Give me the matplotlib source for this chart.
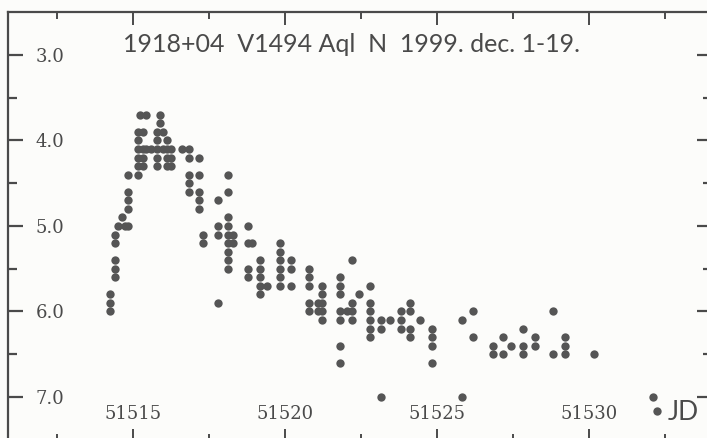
import matplotlib
matplotlib.use('Agg')
import matplotlib.pyplot as plt
from matplotlib.lines import Line2D
import numpy as np

# visual estimates, grouped by observing time (JD - 2400000)
night_jd = [51514.24, 51514.41, 51514.51, 51514.64, 51514.74, 51514.84,
            51515.16, 51515.23, 51515.33, 51515.43, 51515.59, 51515.79,
            51515.89, 51515.99, 51516.12, 51516.25, 51516.61, 51516.84,
            51517.17, 51517.30, 51517.80, 51518.13, 51518.29, 51518.78,
            51518.91, 51519.18, 51519.41, 51519.84, 51520.20, 51520.79,
            51521.09, 51521.22, 51521.81, 51522.04, 51522.20, 51522.43,
            51522.80, 51523.16, 51523.45, 51523.82, 51524.11, 51524.44,
            51524.84, 51525.82, 51526.18, 51526.84, 51527.17, 51527.43,
            51527.83, 51528.22, 51528.82, 51529.21, 51530.16, 51532.11]
night_mags = [[5.8, 5.9, 6.0], [5.1, 5.2, 5.4, 5.5, 5.6], [5.0], [4.9], [5.0],
              [4.4, 4.6, 4.7, 4.8, 5.0],
              [3.9, 4.0, 4.1, 4.2, 4.3, 4.4], [3.7], [3.9, 4.1, 4.2, 4.3],
              [3.7, 4.1], [4.1], [3.9, 4.0, 4.1, 4.2, 4.3],
              [3.7, 3.8], [3.9, 4.1], [4.0, 4.1, 4.2, 4.3], [4.1, 4.2, 4.3],
              [4.1], [4.1, 4.2, 4.4, 4.5, 4.6],
              [4.2, 4.4, 4.6, 4.7, 4.8], [5.1, 5.2], [4.7, 5.0, 5.1, 5.9],
              [4.4, 4.6, 4.9, 5.0, 5.1, 5.2, 5.3, 5.4, 5.5], [5.1, 5.2],
              [5.0, 5.2, 5.5, 5.6],
              [5.2], [5.4, 5.5, 5.6, 5.7, 5.8], [5.7],
              [5.2, 5.3, 5.4, 5.5, 5.6, 5.7], [5.4, 5.5, 5.7],
              [5.5, 5.6, 5.7, 5.9, 6.0],
              [5.9, 6.0], [5.7, 5.8, 5.9, 6.0, 6.1],
              [5.6, 5.7, 5.8, 6.0, 6.1, 6.4, 6.6], [6.0], [5.4, 5.9, 6.0, 6.1],
              [5.8],
              [5.7, 5.9, 6.0, 6.1, 6.2, 6.3], [6.1, 6.2, 7.0], [6.1],
              [6.0, 6.1, 6.2], [5.9, 6.0, 6.2, 6.3], [6.1],
              [6.2, 6.3, 6.4, 6.6], [6.1, 7.0], [6.0, 6.3], [6.4, 6.5],
              [6.3, 6.5], [6.4],
              [6.2, 6.4, 6.5], [6.3, 6.4], [6.0, 6.5], [6.3, 6.4, 6.5], [6.5],
              [7.0]]

title = '1918+04  V1494 Aql  N  1999. dec. 1-19.'
x_ticks = [51515, 51520, 51525, 51530]
y_ticks = [3.0, 4.0, 5.0, 6.0, 7.0]

jd = []
mag = []
for t, ms in zip(night_jd, night_mags):
    for m in ms:
        jd.append(t)
        mag.append(m)

ink = '#4a4a4a'
paper = '#fcfcfa'

fig = plt.figure(figsize=(7.07, 4.38), dpi=100, facecolor=paper)
ax = fig.add_axes([7.5/707, -3/438, 704.5/707, 429/438], facecolor=paper)

ax.plot(jd, mag, 'o', ms=6.0, color='#555555', mec='none')

ax.set_xlim(51510.87, 51534.05)
ax.set_ylim(7.515, 2.497)

ax.set_xticks(x_ticks)
ax.set_xticks(np.arange(51512.5, 51534, 5), minor=True)
ax.set_yticks(y_ticks)
ax.set_yticks(np.arange(3.5, 7.5, 1.0), minor=True)
ax.set_yticklabels(['%.1f' % v for v in y_ticks])

ax.xaxis.set_ticks_position('both')
ax.yaxis.set_ticks_position('both')
ax.tick_params(axis='x', which='major', direction='in', length=9, width=1.4,
               color=ink, labelsize=13, labelcolor=ink, pad=-26)
ax.tick_params(axis='x', which='minor', direction='in', length=4.8, width=1.4,
               color=ink)
ax.tick_params(axis='y', which='major', direction='in', length=10.8, width=1.6,
               color=ink, labelsize=13, labelcolor=ink, pad=-20)
ax.tick_params(axis='y', which='minor', direction='in', length=6.5, width=1.6,
               color=ink)
for lab in ax.get_yticklabels():
    lab.set_horizontalalignment('left')
    lab.set_family('DejaVu Serif')
for lab in ax.get_xticklabels():
    lab.set_family('DejaVu Serif')

for side in ['left', 'top']:
    ax.spines[side].set_color(ink)
    ax.spines[side].set_linewidth(1.6)
ax.spines['right'].set_visible(False)
ax.spines['bottom'].set_visible(False)

fig.text(123/707, 1 - 45/438, title, fontsize=18, color=ink, family='Lato',
         va='center', ha='left')

dot = Line2D([], [], ls='none', marker='o', ms=6.0, color='#555555', mec='none')
fig.legend([dot], ['JD'], loc='center left', frameon=False,
           labelcolor=ink, prop={'family': 'Lato', 'size': 19},
           handlelength=0.5, handletextpad=0.17, borderpad=0, borderaxespad=0,
           bbox_to_anchor=(650.4/707, 1 - 413/438))

fig.savefig('out.png', dpi=100, facecolor=paper)
